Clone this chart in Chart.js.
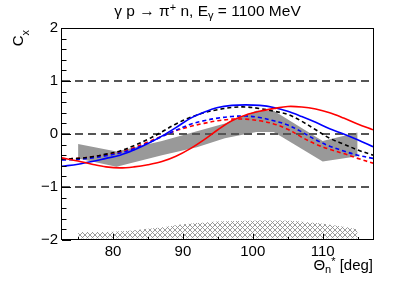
<!DOCTYPE html>
<html><head><meta charset="utf-8">
<script src="https://cdn.jsdelivr.net/npm/chart.js@4/dist/chart.umd.min.js"></script>
<style>html,body{margin:0;padding:0;background:#fff;}canvas{display:block;}</style>
</head><body>
<canvas id="c" width="415" height="282"></canvas>
<script>
// ---- data ----
const xMin = 72.7, xMax = 117.2;
const xTicks = [80, 90, 100, 110];
const yTicks = [-2, -1, 0, 1, 2];
const refLines = [-1, 0, 1];
const curveX = [72.7,75,77,79,81,83,85,87,89,91,93,95,97,99,101,103,105,107,109,111,113,115,117.2];
const redSolid   = [-0.45,-0.51,-0.57,-0.62,-0.64,-0.62,-0.58,-0.52,-0.42,-0.28,-0.11,0.08,0.25,0.36,0.43,0.48,0.52,0.51,0.47,0.40,0.30,0.19,0.08];
const blueSolid  = [-0.61,-0.57,-0.52,-0.46,-0.40,-0.30,-0.18,-0.04,0.12,0.29,0.41,0.50,0.54,0.55,0.54,0.50,0.43,0.33,0.22,0.10,0.00,-0.11,-0.24];
const blackDash  = [-0.47,-0.46,-0.43,-0.38,-0.32,-0.22,-0.10,0.04,0.19,0.31,0.40,0.46,0.50,0.51,0.48,0.43,0.37,0.24,0.08,-0.08,-0.19,-0.30,-0.40];
const blueDash   = [-0.49,-0.48,-0.45,-0.41,-0.36,-0.28,-0.17,-0.05,0.07,0.18,0.25,0.30,0.33,0.34,0.31,0.25,0.17,0.04,-0.11,-0.23,-0.32,-0.40,-0.46];
const redDash    = [-0.47,-0.46,-0.43,-0.39,-0.34,-0.26,-0.15,-0.04,0.06,0.14,0.20,0.25,0.28,0.28,0.25,0.19,0.09,-0.06,-0.19,-0.29,-0.37,-0.46,-0.55];
const bandX  = [75, 80.5, 87, 92, 96, 100.5, 103, 110, 115];
const bandHi = [-0.19,-0.33,-0.13,0.05,0.20,0.44,0.44,-0.13,0.03];
const bandLo = [-0.46,-0.62,-0.40,-0.25,-0.08,0.04,0.04,-0.52,-0.42];
const hatchX = [75,78,82,85,87,89,92,95,98,102,106,109,111,113,115];
const hatchY = [-1.85,-1.85,-1.83,-1.79,-1.76,-1.72,-1.68,-1.65,-1.64,-1.63,-1.64,-1.68,-1.71,-1.75,-1.80];
const hatchBase = -1.97;

const FONT = '"Liberation Sans", Arial, Helvetica, sans-serif';
const pts = (xs, ys) => xs.map((x, i) => ({x, y: ys[i]}));

const ctx = document.getElementById('c').getContext('2d');
function makeHatch(){
  const c = document.createElement('canvas'); c.width = 5; c.height = 5;
  const g = c.getContext('2d');
  g.strokeStyle = '#909090'; g.lineWidth = 0.9;
  g.beginPath(); g.moveTo(0,0); g.lineTo(5,5); g.moveTo(5,0); g.lineTo(0,5); g.stroke();
  return ctx.createPattern(c, 'repeat');
}

const curve = (data, color, dash) => ({data: pts(curveX, data), borderColor: color, borderWidth: 1.6,
  borderDash: dash ? [4,3] : [], fill: false, pointRadius: 0, tension: 0.35});

const datasets = [
  curve(redSolid, '#ff0000', false),
  curve(blueSolid, '#0000ff', false),
  curve(blackDash, '#000000', true),
  curve(blueDash, '#0000ff', true),
  curve(redDash, '#ff0000', true),
  ...refLines.map(v => ({data: [{x:xMin,y:v},{x:xMax,y:v}], borderColor:'#555555', borderWidth:2,
     borderDash:[8,5], fill:false, pointRadius:0})),
  {data: pts(bandX, bandHi), borderWidth:0, borderColor:'rgba(0,0,0,0)', backgroundColor:'#999999', fill:'+1', pointRadius:0, tension:0},
  {data: pts(bandX, bandLo), borderWidth:0, borderColor:'rgba(0,0,0,0)', fill:false, pointRadius:0, tension:0},
  {data: pts(hatchX, hatchY), borderWidth:0, borderColor:'rgba(0,0,0,0)', backgroundColor: makeHatch(), fill:{value:hatchBase}, pointRadius:0, tension:0.3}
];

function drawParts(c, parts, x, y){
  let cx = x;
  for (const p of parts){ c.font = p.s + 'px ' + FONT; c.fillText(p.t, cx, y + p.dy); cx += c.measureText(p.t).width; }
}
function partsWidth(c, parts){
  let w = 0; for (const p of parts){ c.font = p.s + 'px ' + FONT; w += c.measureText(p.t).width; } return w;
}

const framePlugin = {
  id: 'frame',
  afterDatasetsDraw(chart){
    const c = chart.ctx, a = chart.chartArea, xs = chart.scales.x, ys = chart.scales.y;
    c.save(); c.strokeStyle = '#000'; c.lineWidth = 1; c.setLineDash([]);
    c.beginPath();
    for (let k = -10; k <= 10; k++){
      const y = Math.round(ys.getPixelForValue(k/5)) + 0.5;
      const len = (k % 5 === 0) ? 9 : 4.5;
      c.moveTo(a.left, y); c.lineTo(a.left + len, y);
    }
    for (let v = 75; v <= 115; v += 5){
      const x = Math.round(xs.getPixelForValue(v)) + 0.5;
      const len = (v % 10 === 0) ? 6 : 3;
      c.moveTo(x, a.bottom); c.lineTo(x, a.bottom - len);
    }
    c.stroke();
    c.strokeRect(a.left - 0.5, a.top + 0.5, a.right - a.left + 1, a.bottom - a.top - 1);
    c.restore();
  },
  afterDraw(chart){
    const c = chart.ctx; c.save(); c.fillStyle = '#000'; c.textBaseline = 'alphabetic'; c.textAlign = 'left';
    const title = [{t:'γ p → π',s:15.5,dy:0},{t:'+',s:11,dy:-5},{t:' n, E',s:15.5,dy:0},{t:'γ',s:11,dy:3},{t:' = 1100 MeV',s:15.5,dy:0}];
    const tw = partsWidth(c, title);
    drawParts(c, title, 207.5 - tw/2, 16);
    const xt = [{t:'Θ',s:15,dy:0},{t:'n',s:11,dy:3},{t:'*',s:11,dy:-5},{t:' [deg]',s:15,dy:0}];
    const xw = partsWidth(c, xt);
    drawParts(c, xt, chart.chartArea.right - xw, 270);
    const yt = [{t:'C',s:15,dy:0},{t:'x',s:11,dy:6}];
    const yw = partsWidth(c, yt);
    c.translate(23, 30); c.rotate(-Math.PI/2);
    drawParts(c, yt, -yw, 0);
    c.restore();
  }
};

new Chart(ctx, {
  type: 'line',
  data: {datasets},
  options: {
    responsive: false, animation: false, devicePixelRatio: 1,
    layout: {padding: {top: 28, right: 42, left: 0, bottom: 0}},
    plugins: {legend: {display: false}, tooltip: {enabled: false}, title: {display: false}},
    scales: {
      x: {type: 'linear', min: xMin, max: xMax, grid: {display: false, drawTicks: false}, border: {display: false},
          ticks: {color: '#000', font: {family: FONT, size: 15}, padding: 3, maxRotation: 0, autoSkip: false},
          afterBuildTicks: s => { s.ticks = xTicks.map(v => ({value: v})); },
          afterFit: s => { s.height = 42; }},
      y: {type: 'linear', min: -2, max: 2, grid: {display: false, drawTicks: false}, border: {display: false},
          ticks: {color: '#000', font: {family: FONT, size: 15}, padding: 4,
                  callback: v => String(v).replace('-', '\u2212')},
          afterBuildTicks: s => { s.ticks = yTicks.map(v => ({value: v})); },
          afterFit: s => { s.width = 62; }}
    }
  },
  plugins: [framePlugin]
});
</script>
</body></html>
